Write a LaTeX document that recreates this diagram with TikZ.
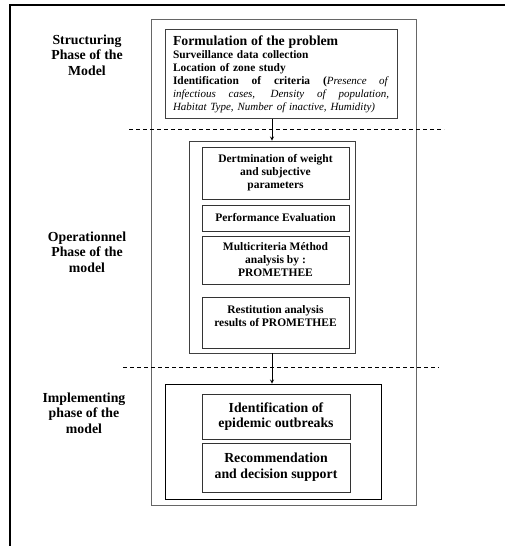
\documentclass[tikz,border=0pt]{standalone}
\usepackage{fontspec}
\setmainfont{Liberation Serif}
\newcommand{\fillline}[1]{{\spaceskip=0pt\xspaceskip=0pt\makebox[216pt][s]{#1}}}
\tikzset{
	phase/.style={font=\fontsize{13.8}{15.5}\selectfont\bfseries, align=center},
	panel/.style={draw=black!75, line width=0.9pt, inner sep=0pt},
	stepbox/.style={draw=black!80, line width=0.9pt, inner sep=0pt, minimum width=147pt, align=center, font=\fontsize{11.5}{13}\selectfont\bfseries},
	implbox/.style={stepbox, minimum width=148pt, font=\fontsize{13.8}{15.7}\selectfont\bfseries},
	sep/.style={line width=0.8pt, dash pattern=on 4pt off 3pt},
}
\begin{document}
\begin{tikzpicture}[x=1pt, y=-1pt, >=stealth]
	\useasboundingbox (0,0) rectangle (505,546);
	\path
	(129,129) coordinate (S1) (444,129) coordinate (S2)
	(123,367) coordinate (I1) (439,367) coordinate (I2)
	;
	\draw[line width=2pt] (10,546)--(10,5)--(505,5);
	\node[panel, draw=black!60, minimum width=265pt, minimum height=486pt] (model) at (283.5,262) {};
	\foreach \nm/\x/\y/\txt in {struct/87/55/{Structuring\\Phase of the\\Model}, oper/87/252/{Operationnel\\Phase of the\\model}, impl/84/413/{Implementing\\phase of the\\model}}
		\node[phase] (\nm) at (\x,\y) {\txt};
	\node[panel, minimum width=232pt, minimum height=89pt, text width=216pt, align=left, font=\fontsize{11.4}{13}\selectfont\bfseries] (form) at (281,74)
	{{\fontsize{13.8}{13}\selectfont Formulation of the problem}\\
	Surveillance data collection\\
	Location of zone study\\
	\fillline{Identification of criteria (\textit{\mdseries\fontsize{11}{13}\selectfont Presence of}}\\
	\fillline{\itshape\mdseries\fontsize{11}{13}\selectfont infectious cases, Density of population,}\\
	{\itshape\mdseries\fontsize{11}{13}\selectfont Habitat Type, Number of inactive, Humidity)}};
	\draw[sep] (S1)--(S2);
	\node[panel, minimum width=166pt, minimum height=212pt] (opbox) at (272,247) {};
	\node[stepbox, minimum height=52pt] (weight) at (275.5,173) {Dertmination of weight\\and subjective\\parameters};
	\node[stepbox, minimum height=26pt] (perf) at (275.5,218) {Performance Evaluation};
	\node[stepbox, minimum height=48pt] (multi) at (275.5,260) {Multicriteria Méthod\\analysis by :\\PROMETHEE};
	\node[stepbox, minimum height=51pt] (resti) at (275.5,322.5) {Restitution analysis\\results of PROMETHEE\\\mbox{}};
	\draw[sep] (I1)--(I2);
	\node[panel, draw=black, minimum width=216pt, minimum height=115pt] (implbox) at (273,441.5) {};
	\node[implbox, minimum height=45pt] (outbreak) at (276,416.5) {Identification of\\epidemic outbreaks};
	\node[implbox, minimum height=49pt] (decision) at (276,467.5) {Recommendation\\and decision support};
	\draw[->, line width=0.8pt] (form.south -| opbox.north)--(opbox.north);
	\draw[->, line width=0.8pt] (opbox.south)--(implbox.north -| opbox.south);
\end{tikzpicture}
\end{document}
